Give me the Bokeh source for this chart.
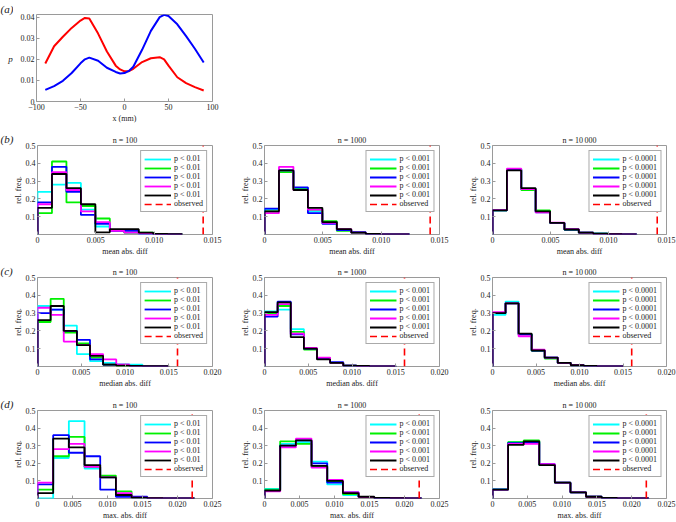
import math
from bokeh.plotting import figure
from bokeh.models import Range1d, FixedTicker, Label, Legend, LegendItem
from bokeh.layouts import column, row
from bokeh.embed import file_html
from bokeh.resources import INLINE

FONT = "Liberation Serif"
TXT = "#1a1a1a"
BOX = "#9a9a9a"

# ---------------- data: panel (a) ----------------
a_x = [-90, -80, -70, -60, -50, -45, -40, -30, -20, -10, -5, 0, 5, 10, 20, 30, 40, 45, 50, 60, 70, 80, 90]
a_blue = [0.0055, 0.0073, 0.0098, 0.0135, 0.0181, 0.0200, 0.0208, 0.0193, 0.0160, 0.0140, 0.0133, 0.0135,
          0.0145, 0.0165, 0.0245, 0.0335, 0.0400, 0.0411, 0.0405, 0.0366, 0.0310, 0.0250, 0.0185]
a_red = [0.0180, 0.0262, 0.0307, 0.0349, 0.0384, 0.0396, 0.0393, 0.0322, 0.0237, 0.0170, 0.0152, 0.0143,
         0.0144, 0.0155, 0.0187, 0.0205, 0.0210, 0.0200, 0.0170, 0.0115, 0.0087, 0.0068, 0.0052]
a_xticks = [-100, -50, 0, 50, 100]
a_xlabels = ["\u2212100", "\u221250", "0", "50", "100"]
a_yticks = [0, 0.01, 0.02, 0.03, 0.04]
a_ylabels = ["0", "0.01", "0.02", "0.03", "0.04"]

# ---------------- data: histograms ----------------
mean_edges = [0.0, 0.00124, 0.00248, 0.00372, 0.00496, 0.0062, 0.00744, 0.00868, 0.00992, 0.01116, 0.0124]
median_edges = [0.0, 0.0015, 0.003, 0.0045, 0.006, 0.0075, 0.009, 0.0105, 0.012, 0.0135, 0.015]
max_edges = [0.0, 0.00224, 0.00448, 0.00672, 0.00896, 0.0112, 0.01344, 0.01568, 0.01792, 0.02016, 0.0224]

# rows: cyan, green, blue, magenta, black
mean_n100 = [
    [0.24, 0.28, 0.29, 0.14, 0.045, 0.02, 0.01, 0.003, 0.0, 0.0],
    [0.12, 0.41, 0.18, 0.16, 0.09, 0.025, 0.01, 0.01, 0.0, 0.0],
    [0.18, 0.38, 0.24, 0.11, 0.06, 0.02, 0.02, 0.005, 0.002, 0.0],
    [0.17, 0.35, 0.25, 0.13, 0.07, 0.02, 0.01, 0.005, 0.002, 0.0],
    [0.15, 0.34, 0.26, 0.17, 0.012, 0.03, 0.03, 0.01, 0.003, 0.002],
]
mean_n1000 = [
    [0.14, 0.36, 0.26, 0.13, 0.07, 0.025, 0.01, 0.004, 0.001, 0.001],
    [0.13, 0.35, 0.255, 0.14, 0.075, 0.02, 0.01, 0.004, 0.001, 0.001],
    [0.145, 0.36, 0.265, 0.12, 0.06, 0.025, 0.013, 0.004, 0.001, 0.001],
    [0.12, 0.38, 0.25, 0.14, 0.065, 0.03, 0.01, 0.003, 0.001, 0.001],
    [0.13, 0.36, 0.25, 0.15, 0.07, 0.03, 0.01, 0.003, 0.001, 0.001],
]
mean_n10000 = [
    [0.135, 0.365, 0.255, 0.13, 0.065, 0.028, 0.01, 0.005, 0.002, 0.001],
    [0.135, 0.365, 0.25, 0.135, 0.065, 0.028, 0.01, 0.005, 0.002, 0.001],
    [0.135, 0.365, 0.255, 0.125, 0.065, 0.028, 0.01, 0.005, 0.002, 0.001],
    [0.137, 0.37, 0.255, 0.125, 0.067, 0.03, 0.01, 0.004, 0.002, 0.001],
    [0.135, 0.36, 0.26, 0.13, 0.065, 0.028, 0.01, 0.005, 0.002, 0.001],
]
median_n100 = [
    [0.34, 0.32, 0.23, 0.07, 0.03, 0.02, 0.01, 0.01, 0.0, 0.0],
    [0.25, 0.38, 0.19, 0.13, 0.05, 0.01, 0.005, 0.003, 0.002, 0.0],
    [0.30, 0.32, 0.20, 0.15, 0.04, 0.01, 0.01, 0.003, 0.0, 0.0],
    [0.33, 0.29, 0.14, 0.12, 0.07, 0.04, 0.01, 0.003, 0.0, 0.0],
    [0.26, 0.34, 0.20, 0.12, 0.06, 0.01, 0.005, 0.003, 0.002, 0.002],
]
median_n1000 = [
    [0.31, 0.32, 0.21, 0.10, 0.045, 0.02, 0.005, 0.003, 0.001, 0.001],
    [0.30, 0.34, 0.195, 0.095, 0.045, 0.02, 0.005, 0.003, 0.001, 0.001],
    [0.28, 0.365, 0.18, 0.10, 0.045, 0.025, 0.005, 0.003, 0.001, 0.001],
    [0.29, 0.35, 0.185, 0.105, 0.05, 0.02, 0.005, 0.002, 0.001, 0.001],
    [0.305, 0.36, 0.165, 0.10, 0.04, 0.02, 0.005, 0.003, 0.001, 0.001],
]
median_n10000 = [
    [0.29, 0.365, 0.18, 0.09, 0.05, 0.02, 0.007, 0.003, 0.001, 0.001],
    [0.30, 0.355, 0.18, 0.09, 0.045, 0.02, 0.007, 0.003, 0.001, 0.001],
    [0.30, 0.355, 0.18, 0.09, 0.05, 0.02, 0.007, 0.003, 0.001, 0.001],
    [0.305, 0.355, 0.17, 0.095, 0.05, 0.02, 0.007, 0.003, 0.001, 0.001],
    [0.30, 0.355, 0.185, 0.09, 0.05, 0.02, 0.007, 0.003, 0.001, 0.001],
]
max_n100 = [
    [0.0, 0.23, 0.44, 0.17, 0.12, 0.02, 0.005, 0.0, 0.0, 0.0],
    [0.05, 0.24, 0.35, 0.18, 0.13, 0.04, 0.005, 0.002, 0.0, 0.0],
    [0.08, 0.36, 0.26, 0.24, 0.05, 0.01, 0.01, 0.0, 0.0, 0.0],
    [0.09, 0.28, 0.31, 0.18, 0.12, 0.03, 0.005, 0.002, 0.0, 0.0],
    [0.03, 0.34, 0.29, 0.19, 0.12, 0.02, 0.005, 0.002, 0.001, 0.001],
]
max_n1000 = [
    [0.055, 0.31, 0.32, 0.21, 0.08, 0.02, 0.008, 0.003, 0.002, 0.001],
    [0.05, 0.325, 0.31, 0.18, 0.095, 0.025, 0.008, 0.003, 0.002, 0.001],
    [0.045, 0.30, 0.33, 0.20, 0.09, 0.035, 0.008, 0.003, 0.002, 0.001],
    [0.04, 0.29, 0.34, 0.175, 0.105, 0.035, 0.008, 0.003, 0.002, 0.001],
    [0.045, 0.30, 0.33, 0.185, 0.10, 0.03, 0.01, 0.003, 0.002, 0.001],
]
max_n10000 = [
    [0.055, 0.32, 0.325, 0.19, 0.09, 0.035, 0.01, 0.003, 0.001, 0.001],
    [0.05, 0.32, 0.33, 0.19, 0.09, 0.035, 0.01, 0.003, 0.001, 0.001],
    [0.05, 0.315, 0.32, 0.195, 0.09, 0.035, 0.01, 0.003, 0.001, 0.001],
    [0.05, 0.31, 0.31, 0.195, 0.09, 0.035, 0.01, 0.003, 0.001, 0.001],
    [0.05, 0.305, 0.325, 0.19, 0.09, 0.035, 0.01, 0.003, 0.001, 0.001],
]

observed_mean = 0.0142
observed_median = 0.016
observed_max = 0.0221

series_colors = ["#00ffff", "#00f000", "#0000ff", "#ff00ff", "#000000"]
legend_texts = ["p < 0.01", "p < 0.001", "p < 0.0001"]
titles = ["n = 100", "n = 1000", "n = 10\u2009000"]
row_xlabels = ["mean abs. diff", "median abs. diff", "max. abs. diff"]
row_panel_labels = ["(b)", "(c)", "(d)"]
row_xmax = [0.015, 0.020, 0.025]
row_xticks = [[0, 0.005, 0.01, 0.015], [0, 0.005, 0.01, 0.015, 0.02], [0, 0.005, 0.01, 0.015, 0.02, 0.025]]
row_xticklabels = [["0", "0.005", "0.010", "0.015"], ["0", "0.005", "0.010", "0.015", "0.020"],
                   ["0", "0.005", "0.010", "0.015", "0.020", "0.025"]]
yticks = [0.1, 0.2, 0.3, 0.4, 0.5]
yticklabels = ["0.1", "0.2", "0.3", "0.4", "0.5"]

# ---------------- layout geometry (pixels) ----------------
STRIP_A = 13
STRIP_H = 22
col_geom = [(214, 14, 24), (228, 28, 25), (212, 28, 10)]   # width, left border, right border
row_a_geom = (128, 12, 27)                                 # height, top, bottom
row_geom = [(134, 17, 28), (132, 15, 28), (128, 16, 23)]


def style(p):
    for ax in (p.xaxis[0], p.yaxis[0]):
        ax.major_label_text_font = FONT
        ax.major_label_text_font_size = "8px"
        ax.major_label_text_color = TXT
        ax.axis_label_text_font = FONT
        ax.axis_label_text_font_size = "8px"
        ax.axis_label_text_font_style = "normal"
        ax.axis_label_text_color = TXT
        ax.axis_line_color = None
        ax.major_tick_in = 3
        ax.major_tick_out = 0
        ax.major_tick_line_color = BOX
        ax.minor_tick_line_color = None
        ax.axis_label_standoff = 1
    p.xaxis.major_label_standoff = 2
    p.yaxis.major_label_standoff = 2
    p.outline_line_color = BOX
    p.outline_line_width = 1
    p.xgrid.visible = False
    p.ygrid.visible = False
    p.background_fill_color = "white"
    p.border_fill_color = "white"


def strip(width, height, top, bottom, title, standoff, labels):
    s = figure(width=width, height=height, x_range=Range1d(0, 1), y_range=Range1d(0, 1),
               output_backend="svg", toolbar_location=None, x_axis_location=None, y_axis_location=None,
               min_border_left=0, min_border_right=0, min_border_top=top, min_border_bottom=bottom)
    s.outline_line_color = None
    s.background_fill_color = "white"
    s.border_fill_color = "white"
    for g in s.grid:
        g.visible = False
    s.title.text = title
    s.title.align = "left"
    s.title.offset = 0
    s.title.standoff = standoff
    s.title.text_font = FONT
    s.title.text_font_size = "11px"
    s.title.text_font_style = "italic"
    s.title.text_color = TXT
    for text, x, y, size, fstyle, angle in labels:
        s.add_layout(Label(x=x, y=y, x_units="screen", y_units="screen", text=text, angle=angle,
                           text_font=FONT, text_font_size=size, text_font_style=fstyle,
                           text_baseline="middle", text_align="center", text_color=TXT))
    return s


def stairs(edges, heights):
    xs = [edges[0]]
    ys = [0.0]
    for i, h in enumerate(heights):
        xs += [edges[i], edges[i + 1]]
        ys += [h, h]
    xs.append(edges[-1])
    ys.append(0.0)
    return xs, ys


# ---------------- panel (a) ----------------
ha, ta, ba = row_a_geom
pa = figure(width=238 - STRIP_A, height=ha, x_range=Range1d(-100, 100), y_range=Range1d(0, 0.04125),
            output_backend="svg", toolbar_location=None,
            min_border_left=36 - STRIP_A, min_border_right=26, min_border_top=ta, min_border_bottom=ba)
style(pa)
pa.line(a_x, a_red, line_color="#ff0000", line_width=2)
pa.line(a_x, a_blue, line_color="#0000ff", line_width=2)
pa.xaxis.ticker = FixedTicker(ticks=a_xticks)
pa.xaxis.major_label_overrides = dict(zip(a_xticks, a_xlabels))
pa.yaxis.ticker = FixedTicker(ticks=a_yticks)
pa.yaxis.major_label_overrides = dict(zip(a_yticks, a_ylabels))
pa.xaxis.axis_label = "x (mm)"
frame_a = ha - ta - ba
strip_a = strip(STRIP_A, ha, 0, ba, "(a)", 0, [("p", 10, frame_a - (58 - ta), "9px", "italic", 0)])
row_a = row(strip_a, pa)

# ---------------- histograms ----------------
row_data = [
    (mean_edges, [mean_n100, mean_n1000, mean_n10000], observed_mean),
    (median_edges, [median_n100, median_n1000, median_n10000], observed_median),
    (max_edges, [max_n100, max_n1000, max_n10000], observed_max),
]

rows = [row_a]
for r, (edges, panels, obs) in enumerate(row_data):
    h, top, bottom = row_geom[r]
    frame_h = h - top - bottom
    figs = [strip(STRIP_H, h, top, bottom, row_panel_labels[r], 1,
                  [("rel. freq.", 17.5, frame_h / 2, "8px", "normal", math.pi / 2)])]
    for c in range(3):
        w, left, right = col_geom[c]
        p = figure(width=w, height=h, x_range=Range1d(0, row_xmax[r]), y_range=Range1d(0, 0.5),
                   output_backend="svg", toolbar_location=None,
                   min_border_left=left, min_border_right=right, min_border_top=top, min_border_bottom=bottom)
        style(p)
        p.title.text = titles[c]
        p.title.align = "center"
        p.title.text_font = FONT
        p.title.text_font_size = "8px"
        p.title.text_font_style = "normal"
        p.title.text_color = TXT
        p.title.standoff = 2
        p.xaxis.ticker = FixedTicker(ticks=row_xticks[r])
        p.xaxis.major_label_overrides = dict(zip(row_xticks[r], row_xticklabels[r]))
        p.yaxis.ticker = FixedTicker(ticks=yticks)
        p.yaxis.major_label_overrides = dict(zip(yticks, yticklabels))
        p.xaxis.axis_label = row_xlabels[r]
        if c > 0:
            p.yaxis.axis_label = "rel. freq."
            p.yaxis.axis_label_standoff = 0
        items = []
        for s, col in enumerate(series_colors):
            xs, ys = stairs(edges, panels[c][s])
            rr = p.line(xs, ys, line_color=col, line_width=1.8)
            items.append(LegendItem(label=legend_texts[c], renderers=[rr]))
        ro = p.line([obs, obs], [0, 0.5], line_color="#ff0000", line_width=1.6, line_dash="7 4")
        items.append(LegendItem(label="observed", renderers=[ro]))
        leg = Legend(items=items, location="top_right")
        leg.label_text_font = FONT
        leg.label_text_font_size = "8px"
        leg.label_text_color = TXT
        leg.label_standoff = 3
        leg.label_height = 8
        leg.glyph_width = 27
        leg.glyph_height = 8
        leg.spacing = 0
        leg.padding = 3
        leg.margin = 5
        leg.border_line_color = "#555555"
        leg.border_line_width = 1
        leg.background_fill_alpha = 1.0
        p.add_layout(leg)
        figs.append(p)
    rows.append(row(*figs))

layout = column(*rows)
open("out.html", "w").write(file_html(layout, INLINE))
